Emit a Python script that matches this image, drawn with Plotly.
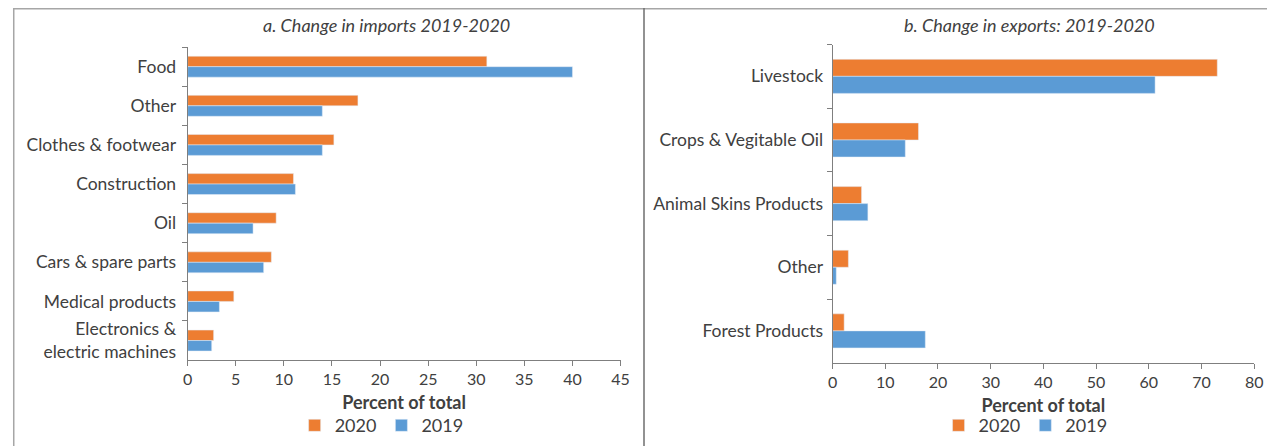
import plotly.graph_objects as go

# ---------------- data ----------------
imp_categories = ["Food", "Other", "Clothes & footwear", "Construction", "Oil",
                  "Cars & spare parts", "Medical products", "Electronics &<br>electric machines"]
imp_2020 = [31.1, 17.7, 15.2, 11.0, 9.2, 8.7, 4.8, 2.7]
imp_2019 = [40.0, 14.0, 14.0, 11.2, 6.8, 7.9, 3.3, 2.5]

exp_categories = ["Livestock", "Crops & Vegitable Oil", "Animal Skins Products", "Other", "Forest Products"]
exp_2020 = [73.0, 16.3, 5.5, 3.0, 2.2]
exp_2019 = [61.2, 13.8, 6.7, 0.7, 17.6]

imp_ticks = [0, 5, 10, 15, 20, 25, 30, 35, 40, 45]
exp_ticks = [0, 10, 20, 30, 40, 50, 60, 70, 80]

C2020 = "#ED7D31"
C2019 = "#5B9BD5"
TXT = "#404040"
FONT = "Lato"

W, H = 1275, 446
SX, BX = 1275 / 1291, 5.0
OY = 8.0

def px(t):
    """target screen x -> paper x"""
    return ((t - BX) / SX - 8) / W

def py(t):
    """target screen y -> paper y"""
    return 1 - (t - OY) / H

fig = go.Figure()
fig.add_trace(go.Bar(y=imp_categories, x=imp_2020, name="2020", orientation="h",
                     marker_color=C2020, xaxis="x", yaxis="y", legend="legend"))
fig.add_trace(go.Bar(y=imp_categories, x=imp_2019, name="2019", orientation="h",
                     marker_color=C2019, xaxis="x", yaxis="y", legend="legend"))
fig.add_trace(go.Bar(y=exp_categories, x=exp_2020, name="2020", orientation="h",
                     marker_color=C2020, xaxis="x2", yaxis="y2", legend="legend2"))
fig.add_trace(go.Bar(y=exp_categories, x=exp_2019, name="2019", orientation="h",
                     marker_color=C2019, xaxis="x2", yaxis="y2", legend="legend2"))

line_common = dict(showgrid=False, zeroline=False, showline=True, linecolor="#7f7f7f",
                   linewidth=1, ticks="outside", ticklen=5, tickcolor="#7f7f7f")
xfont = dict(family=FONT, size=16, color=TXT)
yfont = dict(family=FONT, size=17.5, color=TXT)
title_font = dict(family=FONT, size=18, color=TXT)

fig.update_layout(
    width=W, height=H,
    margin=dict(l=0, r=0, t=0, b=0),
    paper_bgcolor="white", plot_bgcolor="white",
    barmode="group", bargap=0.465, bargroupgap=0,
    font=dict(family=FONT, color=TXT),
    xaxis=dict(domain=[px(187.3), px(619.6)], range=[0, 45], tickvals=imp_ticks,
               anchor="y", tickfont=xfont,
               title=dict(text="<b>Percent of total</b>", font=title_font, standoff=9),
               **line_common),
    yaxis=dict(domain=[py(361.7), py(47.3)], autorange="reversed", type="category",
               tickson="boundaries", anchor="x", ticklabelstandoff=7, tickfont=yfont,
               **line_common),
    xaxis2=dict(domain=[px(831.3), px(1252.3)], range=[0, 80], tickvals=exp_ticks,
                anchor="y2", tickfont=xfont,
                title=dict(text="<b>Percent of total</b>", font=title_font, standoff=9),
                **line_common),
    yaxis2=dict(domain=[py(364.3), py(44.7)], autorange="reversed", type="category",
                tickson="boundaries", anchor="x2", ticklabelstandoff=5, tickfont=yfont,
                **line_common),
    legend=dict(orientation="h", x=px(381), xanchor="center", y=py(427.5), yanchor="middle",
                font=title_font, itemwidth=30, bgcolor="rgba(0,0,0,0)"),
    legend2=dict(orientation="h", x=px(1024), xanchor="center", y=py(427.5), yanchor="middle",
                 font=title_font, itemwidth=30, bgcolor="rgba(0,0,0,0)"),
    annotations=[
        dict(text="<i>a. Change in imports 2019-2020</i>", x=px(386), y=py(25),
             xref="paper", yref="paper", showarrow=False, xanchor="center", yanchor="middle",
             font=title_font),
        dict(text="<i>b. Change in exports: 2019-2020</i>", x=px(1028), y=py(25),
             xref="paper", yref="paper", showarrow=False, xanchor="center", yanchor="middle",
             font=title_font),
    ],
    shapes=[
        dict(type="line", xref="paper", yref="paper", x0=0, x1=1, y0=1 - 0.6 / H, y1=1 - 0.6 / H,
             line=dict(color="#a6a6a6", width=2)),
        dict(type="line", xref="paper", yref="paper", x0=0.75 / W, x1=0.75 / W, y0=0, y1=1,
             line=dict(color="#a6a6a6", width=1.5)),
        dict(type="line", xref="paper", yref="paper", x0=px(643), x1=px(643), y0=0, y1=1,
             line=dict(color="#6e6e6e", width=1.5)),
    ],
)

fig.write_html("out.html")
